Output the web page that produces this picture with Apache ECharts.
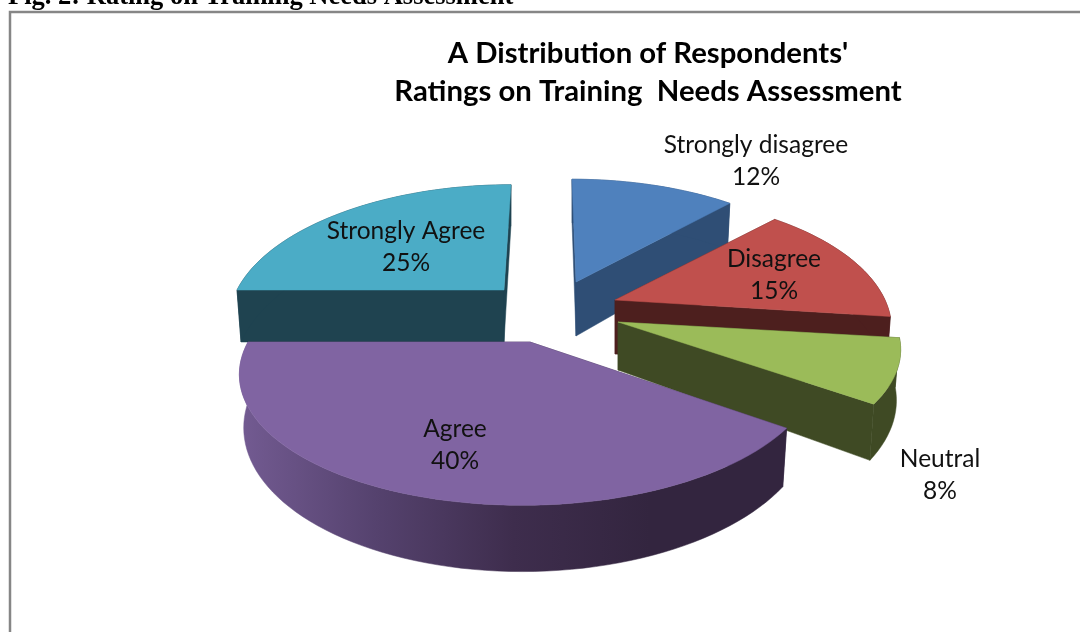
<!DOCTYPE html>
<html>
<head>
<meta charset="utf-8">
<style>html,body{margin:0;padding:0;background:#fff}#c{width:1080px;height:632px}</style>
<script src="https://cdn.jsdelivr.net/npm/echarts@6/dist/echarts.min.js"></script>
</head>
<body>
<div id="c"></div>
<script>
const caption = "Fig. 2: Rating on Training Needs Assessment";
const chartTitle = "A Distribution of Respondents'\nRatings on Training  Needs Assessment";
const categories = ["Strongly disagree", "Disagree", "Neutral", "Agree", "Strongly Agree"];
const percentages = [12, 15, 8, 40, 25];

const topColors = ["#4f81bd", "#c0504d", "#9bbb59", "#8064a2", "#4bacc6"];
const wallColors = ["#2f4e75", "#4d1f1e", "#3f4a24", "#3a2c4a", "#1f4350"];
const outerWallStops = [null, null, null, ["#735b92", "#55426e", "#3e2d4d", "#33253f", "#33253f"], null];

// Exploded 3D view of each slice: apex, radii, skew, and wall depth.
const apexX = [576, 615, 618, 530, 504];
const apexY = [282, 300, 322, 342, 290];
const radiusX = [265, 270, 276, 282, 267];
const radiusY = [125, 128, 122, 128, 128];
const skewX = [-4, 0, 0, 8, 7];
const depth = [54, 54, 48, 50, 52];
const layer = [0, 1, 2, 3, 0];
const labelX = [756, 774, 940, 455, 406];
const labelY = [161, 275, 475, 445, 247];

const perspective = 0.216, bottomScaleX = 0.985, bottomScaleY = 1.1, fontFamily = "Lato";
const total = percentages.reduce((a, b) => a + b, 0);

function project(i, deg, bottom) {
  const a = deg * Math.PI / 180, u = Math.sin(a), v = -Math.cos(a);
  const s = 1 / (1 - perspective * v);
  const x = (radiusX[i] * u * s - skewX[i] * v) * (bottom ? bottomScaleX : 1);
  const y = radiusY[i] * v * s * (bottom ? bottomScaleY : 1) + (bottom ? depth[i] : 0);
  return [apexX[i] + x, apexY[i] + y];
}
function arc(i, from, to, bottom) {
  const pts = [], n = Math.max(8, Math.ceil((to - from) / 2));
  for (let k = 0; k <= n; k++) pts.push(project(i, from + (to - from) * k / n, bottom));
  return pts;
}
function poly(points, fill, z2) {
  return { type: "polygon", shape: { points }, z2, silent: true,
    style: { fill, stroke: fill, lineWidth: 0.5 } };
}
function radialWall(i, deg, z) {
  return poly([[apexX[i], apexY[i]], project(i, deg, false), project(i, deg, true),
    [apexX[i], apexY[i] + depth[i]]], wallColors[i], z);
}
function renderSlice(params) {
  const i = params.dataIndex;
  const before = percentages.slice(0, i).reduce((a, b) => a + b, 0);
  const from = before / total * 360, to = (before + percentages[i]) / total * 360;
  const z = layer[i] * 10;
  const stops = outerWallStops[i];
  const outerFill = stops
    ? new echarts.graphic.LinearGradient(0, 0, 1, 0,
        stops.map((color, k) => ({ offset: k / (stops.length - 1), color })))
    : wallColors[i];
  const top = arc(i, from, to, false);
  return { type: "group", children: [
    radialWall(i, from, z + 1),
    radialWall(i, to, z + 1),
    poly(top.concat(arc(i, from, to, true).reverse()), outerFill, z + 2),
    poly([[apexX[i], apexY[i]]].concat(top), topColors[i], z + 3),
    { type: "text", z2: 100, silent: true,
      style: { x: labelX[i], y: labelY[i], text: categories[i] + "\n" + percentages[i] + "%",
        fill: "#111", font: "24.5px " + fontFamily, lineHeight: 32,
        align: "center", verticalAlign: "middle" } }
  ] };
}

const chart = echarts.init(document.getElementById("c"), null, { renderer: "canvas" });
chart.setOption({
  animation: false,
  backgroundColor: "#ffffff",
  title: {
    text: chartTitle, left: 643, top: 30, textAlign: "center",
    textStyle: { fontFamily, fontWeight: "bold", fontSize: 29.3, lineHeight: 38, color: "#000" }
  },
  graphic: [
    { type: "polyline", silent: true, shape: { points: [[10, 632], [10, 12], [1080, 12]] },
      style: { stroke: "#868686", lineWidth: 2.5, fill: null } },
    { type: "text", silent: true, left: 8, top: -16,
      style: { text: caption, fill: "#000", font: "bold 26.5px 'Liberation Serif'" } }
  ],
  series: [{
    type: "custom",
    coordinateSystem: "none",
    clip: false,
    renderItem: renderSlice,
    data: percentages
  }]
});
</script>
</body>
</html>
